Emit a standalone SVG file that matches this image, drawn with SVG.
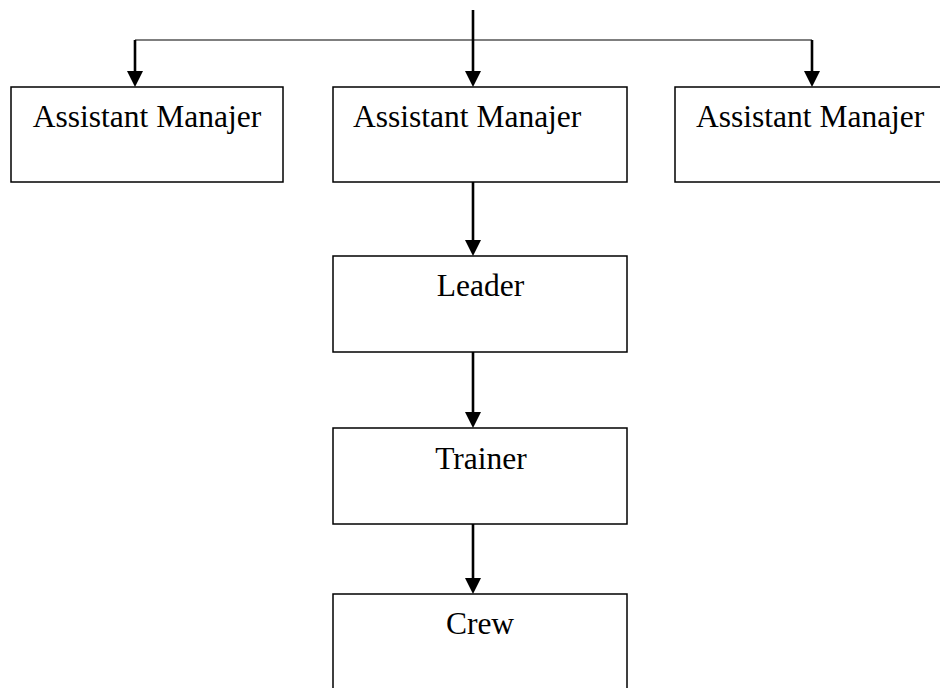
<svg xmlns="http://www.w3.org/2000/svg" width="940" height="688" viewBox="0 0 940 688">
<style>
.box{fill:#fff;stroke:#000;stroke-width:1.5}
.lbl{font-family:"Liberation Serif","Times New Roman",serif;font-size:31.5px;fill:#000}
.c{text-anchor:middle}
.ln{fill:none;stroke:#000;stroke-width:2.6}
.thin{fill:none;stroke:#000;stroke-width:1.2}
.hd{fill:#000}
</style>
<defs>
<path id="head" class="hd" d="M-8,-16 L8,-16 L0,0 Z"/>
</defs>
<rect width="940" height="688" fill="#fff"/>
<g id="connectors">
<path class="thin" d="M135,40 H812"/>
<path class="ln" d="M135,40 V72"/>
<use href="#head" x="135" y="87"/>
<path class="ln" d="M473,10 V72"/>
<use href="#head" x="473" y="87"/>
<path class="ln" d="M812,40 V72"/>
<use href="#head" x="812" y="87"/>
<path class="ln" d="M473,182 V242"/>
<use href="#head" x="473" y="256"/>
<path class="ln" d="M473,352 V414"/>
<use href="#head" x="473" y="428"/>
<path class="ln" d="M473,524 V580"/>
<use href="#head" x="473" y="594"/>
</g>
<g id="am1">
<rect class="box" x="11" y="87" width="272" height="95"/>
<text class="lbl c" x="147" y="127">Assistant Manajer</text>
</g>
<g id="am2">
<rect class="box" x="333" y="87" width="294" height="95"/>
<text class="lbl" x="353" y="127">Assistant Manajer</text>
</g>
<g id="am3">
<rect class="box" x="675" y="87" width="280" height="95"/>
<text class="lbl" x="696" y="127">Assistant Manajer</text>
</g>
<g id="leader">
<rect class="box" x="333" y="256" width="294" height="96"/>
<text class="lbl c" x="480.5" y="296">Leader</text>
</g>
<g id="trainer">
<rect class="box" x="333" y="428" width="294" height="96"/>
<text class="lbl c" x="481" y="469">Trainer</text>
</g>
<g id="crew">
<rect class="box" x="333" y="594" width="294" height="110"/>
<text class="lbl c" x="480" y="634">Crew</text>
</g>
</svg>
